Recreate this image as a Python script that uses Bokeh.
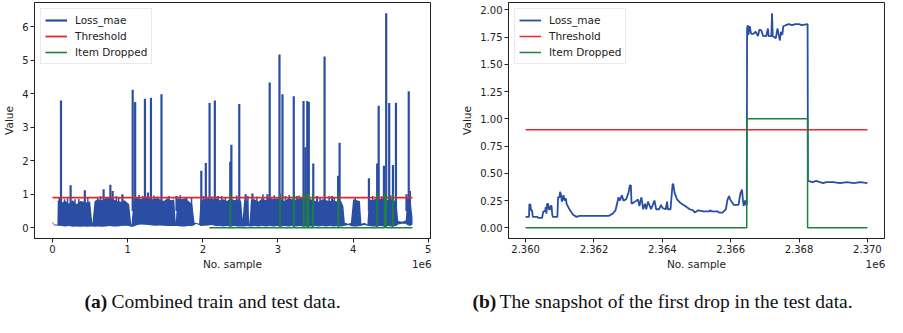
from bokeh.plotting import figure
from bokeh.layouts import row, column
from bokeh.models import Range1d, FixedTicker, Legend, LegendItem, LinearAxis, NumeralTickFormatter
from bokeh.core.properties import value
from bokeh.embed import file_html
from bokeh.resources import INLINE

# ---------------- data: (a) combined train and test data ----------------
# dense loss band, stations in millions of samples, upper / lower envelope
BAND_X_M = [0.00, 0.01, 0.02, 0.065, 0.07, 0.12, 0.17, 0.22, 0.27, 0.32, 0.37, 0.42, 0.47, 0.50,
            0.53, 0.56, 0.61, 0.66, 0.71, 0.76, 0.81, 0.86, 0.91, 0.96, 1.02, 1.05, 1.08, 1.13,
            1.18, 1.23, 1.28, 1.33, 1.38, 1.43, 1.48, 1.53, 1.58, 1.62, 1.64, 1.66, 1.71, 1.76,
            1.81, 1.86, 1.89, 1.91, 1.95, 1.97, 2.02, 2.07, 2.12, 2.17, 2.22, 2.27, 2.32, 2.37,
            2.42, 2.47, 2.51, 2.53, 2.55, 2.60, 2.62, 2.64, 2.69, 2.74, 2.79, 2.84, 2.89, 2.94,
            2.99, 3.04, 3.09, 3.14, 3.19, 3.24, 3.29, 3.34, 3.39, 3.44, 3.49, 3.54, 3.59, 3.64,
            3.69, 3.74, 3.79, 3.84, 3.87, 3.89, 3.94, 3.97, 4.00, 4.05, 4.09, 4.11, 4.15, 4.19,
            4.21, 4.26, 4.31, 4.36, 4.41, 4.46, 4.51, 4.56, 4.58, 4.60, 4.65, 4.70, 4.72, 4.76, 4.79]
BAND_UPPER = [0.16, 0.16, 0.10, 0.10, 0.82, 0.75, 0.80, 0.72, 0.82, 0.70, 0.80, 0.78, 0.75, 0.80,
              0.12, 0.80, 0.85, 0.82, 0.88, 0.92, 0.85, 0.80, 0.78, 0.82, 0.70, 0.06, 0.88, 0.92,
              0.85, 0.90, 0.88, 0.85, 0.88, 0.85, 0.80, 0.88, 0.82, 0.85, 0.15, 0.88, 0.85, 0.88,
              0.80, 0.70, 0.15, 0.15, 0.12, 0.80, 0.85, 0.88, 0.85, 0.88, 0.82, 0.85, 0.80, 0.88,
              0.82, 0.85, 0.80, 0.25, 0.85, 0.80, 0.10, 0.82, 0.85, 0.78, 0.88, 0.82, 0.90, 0.85,
              0.88, 0.85, 0.80, 0.88, 0.85, 0.82, 0.88, 0.90, 0.88, 0.85, 0.80, 0.78, 0.85, 0.82,
              0.80, 0.82, 0.78, 0.80, 0.65, 0.15, 0.12, 0.15, 0.85, 0.82, 0.80, 0.12, 0.15, 0.10,
              0.85, 0.82, 0.88, 0.85, 0.88, 0.82, 0.85, 0.80, 0.70, 0.20, 0.18, 0.22, 0.88, 0.92, 0.30]
BAND_LOWER = [0.12, 0.12, 0.07, 0.07, 0.06, 0.05, 0.04, 0.05, 0.03, 0.04, 0.03, 0.04, 0.03, 0.04,
              0.04, 0.03, 0.04, 0.03, 0.04, 0.05, 0.04, 0.04, 0.05, 0.06, 0.05, 0.02, 0.04, 0.08,
              0.10, 0.09, 0.08, 0.07, 0.06, 0.07, 0.06, 0.05, 0.05, 0.05, 0.05, 0.05, 0.04, 0.04,
              0.05, 0.05, 0.08, 0.12, 0.08, 0.05, 0.06, 0.07, 0.08, 0.05, 0.05, 0.04, 0.05, 0.04,
              0.05, 0.04, 0.04, 0.04, 0.04, 0.05, 0.04, 0.04, 0.05, 0.04, 0.05, 0.04, 0.05, 0.04,
              0.05, 0.04, 0.05, 0.04, 0.05, 0.04, 0.05, 0.04, 0.05, 0.04, 0.05, 0.04, 0.05, 0.04,
              0.05, 0.04, 0.05, 0.04, 0.05, 0.06, 0.08, 0.05, 0.04, 0.04, 0.05, 0.06, 0.08, 0.06,
              0.05, 0.04, 0.04, 0.05, 0.04, 0.05, 0.04, 0.05, 0.06, 0.10, 0.12, 0.12, 0.08, 0.05, 0.10]
# small peaks along the top of the band (sample index, value)
RIPPLE_X = [90000, 160000, 200000, 300000, 350000, 470000, 600000, 640000, 720000, 850000,
            880000, 1150000, 1200000, 1350000, 1400000, 1550000, 1700000, 1850000, 2010000, 2120000,
            2250000, 2300000, 2450000, 2600000, 2720000, 2800000, 2950000, 3100000, 3150000, 3280000,
            3560000, 3680000, 3750000, 4030000, 4260000, 4380000, 4500000, 4760000]
RIPPLE_Y = [0.90, 0.85, 0.88, 0.85, 0.86, 0.90, 0.92, 0.95, 0.90, 0.95,
            0.92, 0.98, 0.95, 0.96, 0.93, 0.95, 0.97, 0.92, 0.95, 0.93,
            0.95, 0.92, 0.96, 0.95, 0.93, 1.00, 0.97, 0.95, 0.98, 0.96,
            0.92, 0.95, 0.90, 0.92, 0.95, 0.94, 0.96, 1.10]
# loss spikes (sample index, peak value)
SPIKE_X = [113000, 241000, 430000, 680000, 770000, 800000, 930000, 1067000, 1100000, 1230000,
           1270000, 1310000, 1450000, 1650000, 1780000, 1980000, 2040000, 2090000, 2160000, 2200000,
           2365000, 2380000, 2485000, 2570000, 2660000, 2860000, 2890000, 3020000, 3060000, 3210000,
           3250000, 3340000, 3365000, 3390000, 3410000, 3470000, 3520000, 3620000, 3720000, 3800000,
           3820000, 4210000, 4320000, 4340000, 4410000, 4440000, 4480000, 4530000, 4570000, 4710000,
           4740000]
SPIKE_Y = [3.80, 1.27, 1.12, 1.15, 1.28, 1.10, 1.00, 4.12, 3.75, 3.85,
           1.05, 3.88, 3.98, 0.95, 0.92, 1.70, 1.93, 3.72, 3.80, 0.95,
           1.97, 2.48, 3.69, 1.00, 1.02, 1.00, 4.33, 5.17, 3.98, 3.92,
           0.95, 3.78, 2.40, 3.78, 3.75, 1.92, 0.95, 5.11, 0.95, 1.55,
           2.54, 1.48, 1.92, 3.64, 1.85, 6.40, 3.72, 1.87, 3.73, 1.00,
           4.07]
THRESHOLD = 0.9
SAMPLES_END = 4790000
DROP_START = 2086000
DROP_PULSES = [(2366500, 2368250), (3025000, 3030000), (3210000, 3214000), (3340000, 3346000),
               (3385000, 3390000), (3400000, 3405000), (3465000, 3469000), (3800000, 3806000),
               (4318000, 4322000), (4420000, 4440000), (4525000, 4530000)]
X_TICKS_A = [0, 1000000, 2000000, 3000000, 4000000, 5000000]
Y_TICKS_A = [0, 1, 2, 3, 4, 5, 6]

# ---------------- data: (b) snapshot of the first drop ----------------
SNAP_X_K = [2360.00, 2360.10, 2360.11, 2360.14, 2360.16, 2360.19, 2360.21, 2360.35, 2360.37, 2360.48,
            2360.52, 2360.57, 2360.59, 2360.61, 2360.63, 2360.66, 2360.68, 2360.72, 2360.73, 2360.76,
            2360.78, 2360.80, 2360.93, 2360.95, 2360.99, 2361.01, 2361.04, 2361.06, 2361.09, 2361.11,
            2361.14, 2361.18, 2361.20, 2361.30, 2361.39, 2361.49, 2361.58, 2362.44, 2362.55, 2362.63,
            2362.66, 2362.72, 2362.76, 2362.82, 2362.86, 2362.94, 2363.01, 2363.05, 2363.08, 2363.10,
            2363.20, 2363.29, 2363.33, 2363.39, 2363.44, 2363.49, 2363.53, 2363.58, 2363.67, 2363.77,
            2363.82, 2363.91, 2363.96, 2364.01, 2364.10, 2364.14, 2364.16, 2364.24, 2364.30, 2364.32,
            2364.36, 2364.43, 2364.52, 2364.62, 2364.71, 2364.80, 2364.90, 2364.95, 2365.05, 2365.20,
            2365.38, 2365.40, 2365.45, 2365.62, 2365.66, 2365.76, 2365.86, 2365.90, 2365.95, 2366.00,
            2366.05, 2366.09, 2366.23, 2366.28, 2366.33, 2366.36, 2366.38, 2366.42, 2366.45, 2366.47,
            2366.48, 2366.50, 2366.52, 2366.54, 2366.56, 2366.59, 2366.61, 2366.66, 2366.73, 2366.80,
            2366.84, 2366.90, 2366.95, 2367.04, 2367.09, 2367.11, 2367.13, 2367.19, 2367.21, 2367.23,
            2367.32, 2367.37, 2367.40, 2367.44, 2367.47, 2367.51, 2367.54, 2367.61, 2367.70, 2367.80,
            2367.89, 2368.00, 2368.08, 2368.25, 2368.26, 2368.40, 2368.50, 2368.70, 2368.80, 2369.00,
            2369.20, 2369.40, 2369.60, 2369.80, 2370.00]
SNAP_LOSS = [0.10, 0.10, 0.215, 0.215, 0.16, 0.16, 0.10, 0.10, 0.09, 0.09,
             0.15, 0.15, 0.19, 0.13, 0.22, 0.22, 0.17, 0.17, 0.20, 0.20,
             0.12, 0.10, 0.10, 0.28, 0.28, 0.33, 0.30, 0.24, 0.27, 0.30,
             0.25, 0.27, 0.22, 0.16, 0.12, 0.10, 0.11, 0.11, 0.13, 0.16,
             0.20, 0.28, 0.25, 0.30, 0.25, 0.26, 0.32, 0.39, 0.39, 0.22,
             0.24, 0.26, 0.20, 0.28, 0.17, 0.22, 0.17, 0.24, 0.17, 0.25,
             0.17, 0.17, 0.21, 0.18, 0.17, 0.24, 0.17, 0.17, 0.40, 0.40,
             0.32, 0.26, 0.23, 0.21, 0.19, 0.17, 0.16, 0.14, 0.16, 0.15,
             0.15, 0.16, 0.15, 0.15, 0.14, 0.14, 0.17, 0.25, 0.29, 0.25,
             0.23, 0.21, 0.21, 0.31, 0.35, 0.25, 0.20, 0.25, 0.21, 0.21,
             1.83, 1.86, 1.77, 1.84, 1.85, 1.79, 1.78, 1.78, 1.80, 1.76,
             1.82, 1.81, 1.76, 1.76, 1.83, 1.76, 1.76, 1.76, 1.97, 1.76,
             1.74, 1.83, 1.78, 1.72, 1.80, 1.77, 1.85, 1.86, 1.87, 1.86,
             1.87, 1.87, 1.86, 1.87, 0.43, 0.42, 0.43, 0.41, 0.42, 0.42,
             0.41, 0.42, 0.41, 0.42, 0.41]
SNAP_START = 2360000
SNAP_END = 2370000
SNAP_DROP = (2366470, 2368250)
X_TICKS_B = [2360000, 2362000, 2364000, 2366000, 2368000, 2370000]
Y_TICKS_B = [0.0, 0.25, 0.5, 0.75, 1.0, 1.25, 1.5, 1.75, 2.0]

X_LABEL = "No. sample"
Y_LABEL = "Value"
X_OFFSET_TEXT = "1e6"
CAPTION_A = ("(a)", "Combined train and test data.")
CAPTION_B = ("(b)", "The snapshot of the first drop in the test data.")

# ---------------- style ----------------
BLUE = "#2a4ea3"
RED = "#e8262a"
GREEN = "#1e8040"
INK = "#222222"
FONT = "DejaVu Sans"


def style(p):
    p.outline_line_color = INK
    p.outline_line_width = 1
    p.grid.visible = False
    p.background_fill_color = "white"
    p.border_fill_color = "white"
    for ax in (p.xaxis[0], p.yaxis[0]):
        ax.axis_line_color = INK
        ax.major_tick_line_color = INK
        ax.major_tick_out = 4
        ax.major_tick_in = 0
        ax.minor_tick_line_color = None
        ax.major_label_text_font = FONT
        ax.major_label_text_font_size = "10px"
        ax.major_label_text_color = INK
        ax.axis_label_text_font = FONT
        ax.axis_label_text_font_size = "10.5px"
        ax.axis_label_text_font_style = "normal"
        ax.axis_label_text_color = INK
        ax.major_label_standoff = 2
        ax.axis_label_standoff = 4
    p.yaxis.axis_label = Y_LABEL


def add_xlabel_row(p, x_center, x_offset_pos):
    # second, line-less axis carrying the axis title and the "1e6" offset text on one row
    ax = LinearAxis(ticker=FixedTicker(ticks=[x_center, x_offset_pos]),
                    major_label_overrides={x_center: X_LABEL, x_offset_pos: X_OFFSET_TEXT})
    ax.axis_line_color = None
    ax.major_tick_line_color = None
    ax.minor_tick_line_color = None
    ax.major_tick_out = 0
    ax.major_tick_in = 0
    ax.major_label_standoff = 2
    ax.major_label_text_font = FONT
    ax.major_label_text_font_size = "10.5px"
    ax.major_label_text_color = INK
    p.add_layout(ax, "below")


def add_legend(p, items):
    leg = Legend(items=[LegendItem(label=l, renderers=[r]) for l, r in items], location="top_left")
    leg.label_text_font = FONT
    leg.label_text_font_size = "10.5px"
    leg.label_text_color = INK
    leg.border_line_color = "#d4d4d4"
    leg.border_line_width = 1
    leg.background_fill_alpha = 0.85
    leg.margin = 6
    leg.padding = 4
    leg.spacing = 2
    leg.glyph_width = 22
    leg.glyph_height = 14
    leg.label_height = 14
    leg.label_standoff = 8
    p.add_layout(leg)


PLOT_H = 272
CAP_H = 45

# ---------------- figure (a) ----------------
band_x = [v * 1e6 for v in BAND_X_M]
xa0, xa1 = 0, SAMPLES_END
ya0, ya1 = 0, max(SPIKE_Y)
pad_xa = 0.05 * (xa1 - xa0)
pad_ya = 0.05 * (ya1 - ya0)
pa = figure(width=440, height=PLOT_H, x_range=Range1d(xa0 - pad_xa, xa1 + pad_xa),
            y_range=Range1d(ya0 - pad_ya, ya1 + pad_ya), output_backend="svg",
            toolbar_location=None, min_border_left=29, min_border_right=10,
            min_border_top=2, min_border_bottom=0)
style(pa)
pa.varea(x=band_x, y1=BAND_LOWER, y2=BAND_UPPER, fill_color=BLUE)
pa.segment(x0=RIPPLE_X, y0=[0.3] * len(RIPPLE_X), x1=RIPPLE_X, y1=RIPPLE_Y,
           line_color=BLUE, line_width=1.5)
r_loss_a = pa.segment(x0=SPIKE_X, y0=[0.5] * len(SPIKE_X), x1=SPIKE_X, y1=SPIKE_Y,
                      line_color=BLUE, line_width=2.2)
r_thr_a = pa.line([xa0, xa1], [THRESHOLD, THRESHOLD], line_color=RED, line_width=1.8)
drop_x, drop_y = [DROP_START], [0]
for s, e in DROP_PULSES:
    drop_x += [s, s, e, e]
    drop_y += [0, 1, 1, 0]
drop_x.append(SAMPLES_END)
drop_y.append(0)
r_drop_a = pa.line(drop_x, drop_y, line_color=GREEN, line_width=1.6)
pa.xaxis.ticker = FixedTicker(ticks=X_TICKS_A)
pa.xaxis.major_label_overrides = {t: f"{t / 1e6:g}" for t in X_TICKS_A}
pa.yaxis.ticker = FixedTicker(ticks=Y_TICKS_A)
add_legend(pa, [("Loss_mae", r_loss_a), ("Threshold", r_thr_a), ("Item Dropped", r_drop_a)])
span_a = (xa1 + pad_xa) - (xa0 - pad_xa)
add_xlabel_row(pa, (xa0 + xa1) / 2, (xa1 + pad_xa) - span_a * 0.022)

# ---------------- figure (b) ----------------
snap_x = [v * 1000 for v in SNAP_X_K]
xb0, xb1 = SNAP_START, SNAP_END
yb0, yb1 = 0, max(SNAP_LOSS)
pad_xb = 0.05 * (xb1 - xb0)
pad_yb = 0.05 * (yb1 - yb0)
pb = figure(width=447, height=PLOT_H, x_range=Range1d(xb0 - pad_xb, xb1 + pad_xb),
            y_range=Range1d(yb0 - pad_yb, yb1 + pad_yb), output_backend="svg",
            toolbar_location=None, min_border_left=68, min_border_right=3,
            min_border_top=2, min_border_bottom=0)
style(pb)
r_loss_b = pb.line(snap_x, SNAP_LOSS, line_color=BLUE, line_width=1.8)
r_thr_b = pb.line([xb0, xb1], [THRESHOLD, THRESHOLD], line_color=RED, line_width=1.5)
ds, de = SNAP_DROP
r_drop_b = pb.line([xb0, ds, ds, de, de, xb1], [0, 0, 1, 1, 0, 0], line_color=GREEN, line_width=1.5)
pb.xaxis.ticker = FixedTicker(ticks=X_TICKS_B)
pb.xaxis.major_label_overrides = {t: f"{t / 1e6:.3f}" for t in X_TICKS_B}
pb.yaxis.ticker = FixedTicker(ticks=Y_TICKS_B)
pb.yaxis.formatter = NumeralTickFormatter(format="0.00")
add_legend(pb, [("Loss_mae", r_loss_b), ("Threshold", r_thr_b), ("Item Dropped", r_drop_b)])
span_b = (xb1 + pad_xb) - (xb0 - pad_xb)
add_xlabel_row(pb, (xb0 + xb1) / 2, (xb1 + pad_xb) - span_b * 0.024)

# ---------------- captions ----------------
pc = figure(width=887, height=CAP_H, x_range=Range1d(0, 887), y_range=Range1d(0, CAP_H),
            output_backend="svg", toolbar_location=None, min_border=0, title=None,
            x_axis_location=None, y_axis_location=None)
pc.grid.visible = False
pc.outline_line_color = None
cap_y = CAP_H / 2 - 6
pc.text(x=[84, 472], y=[cap_y, cap_y], text=[CAPTION_A[0], CAPTION_B[0]],
        text_font=value("Liberation Serif"), text_font_size="19.5px", text_font_style="bold",
        text_color="#111111", text_baseline="middle", text_align="left")
pc.text(x=[111, 499], y=[cap_y, cap_y], text=[CAPTION_A[1], CAPTION_B[1]],
        text_font=value("Liberation Serif"), text_font_size="19.5px", text_font_style="normal",
        text_color="#111111", text_baseline="middle", text_align="left")

layout = column(row(pa, pb, spacing=0), pc, spacing=0)
open("out.html", "w").write(file_html(layout, INLINE))
